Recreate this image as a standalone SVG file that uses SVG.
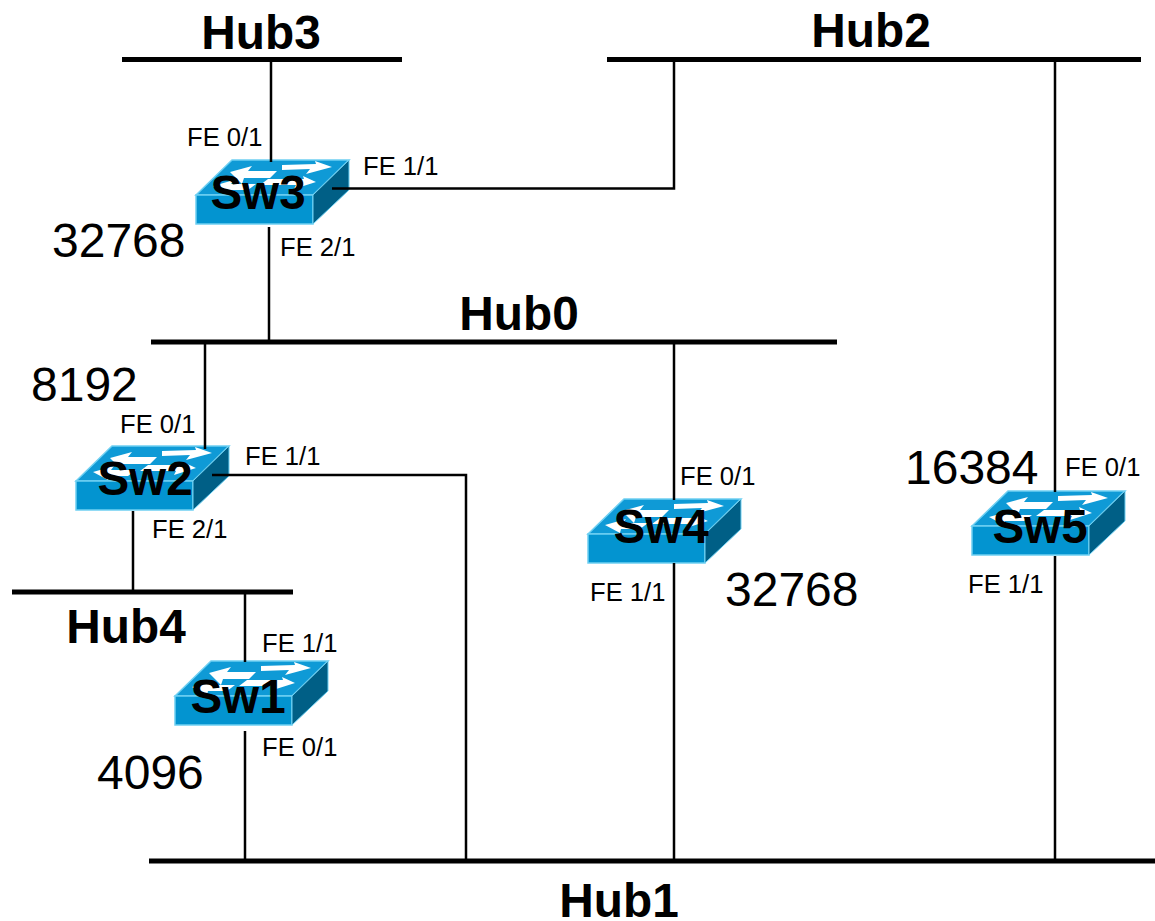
<svg xmlns="http://www.w3.org/2000/svg" width="1155" height="921" viewBox="0 0 1155 921">
<style>
.hub{stroke:#000;stroke-width:5;fill:none}
.wire{stroke:#000;stroke-width:2.5;fill:none}
text{font-family:"Liberation Sans",Arial,sans-serif;fill:#000}
.hl{font-size:47.8px;font-weight:bold;text-anchor:middle}
.sl{font-size:47.6px;font-weight:bold;text-anchor:middle}
.pl{font-size:25.6px}
.pr{font-size:48px}
</style>
<defs>
<g id="sw">
<polygon points="0,35 36,0 153,0 117,35" fill="#0f9ad6" stroke="#6fd0f2" stroke-width="1.5"/>
<rect x="0" y="35" width="117" height="29" fill="#0394d0" stroke="#6fd0f2" stroke-width="1.5"/>
<polygon points="117,35 153,0 153,30 117,64" fill="#005f86" stroke="#6fd0f2" stroke-width="1"/>
<polygon points="34,12 56,6 52,11 81,11 74,18 48,18 46,24" fill="#fff"/>
<polygon points="86,5 120,4 119,1 136,7 110,14 114,9 86,10" fill="#fff"/>
<polygon points="17,26 38,20 35,24 60,24 52,30 33,30 32,34" fill="#fff"/>
<polygon points="72,19 108,19 107,16 120,22 98,29 100,25 64,25" fill="#fff"/>
</g>
</defs>
<g id="Hub3"><line class="hub" x1="122" y1="59.5" x2="402" y2="59.5"/><text class="hl" x="261" y="49">Hub3</text></g>
<g id="Hub2"><line class="hub" x1="607" y1="59.5" x2="1141" y2="59.5"/><text class="hl" x="871" y="47">Hub2</text></g>
<g id="Hub0"><line class="hub" x1="151" y1="342" x2="837" y2="342"/><text class="hl" x="519" y="330">Hub0</text></g>
<g id="Hub4"><line class="hub" x1="12" y1="592" x2="293" y2="592"/><text class="hl" x="126" y="643">Hub4</text></g>
<g id="Hub1"><line class="hub" x1="149" y1="861" x2="1155" y2="861"/><text class="hl" x="619" y="917">Hub1</text></g>
<g id="Sw3"><use href="#sw" x="196" y="160"/><text class="sl" x="258" y="209">Sw3</text>
<text class="pl" x="187" y="146">FE 0/1</text><text class="pl" x="363" y="175">FE 1/1</text><text class="pl" x="280" y="256">FE 2/1</text><text class="pr" x="52" y="257">32768</text></g>
<g id="Sw2"><use href="#sw" x="76" y="446"/><text class="sl" x="145" y="495">Sw2</text>
<text class="pl" x="120" y="433">FE 0/1</text><text class="pl" x="245" y="465">FE 1/1</text><text class="pl" x="152" y="538">FE 2/1</text><text class="pr" x="31" y="401">8192</text></g>
<g id="Sw1"><use href="#sw" x="175" y="661"/><text class="sl" x="238" y="713">Sw1</text>
<text class="pl" x="262" y="652">FE 1/1</text><text class="pl" x="262" y="756">FE 0/1</text><text class="pr" x="97" y="789">4096</text></g>
<g id="Sw4"><use href="#sw" x="588" y="499"/><text class="sl" x="661" y="543">Sw4</text>
<text class="pl" x="680" y="485">FE 0/1</text><text class="pl" x="590" y="601">FE 1/1</text><text class="pr" x="725" y="606">32768</text></g>
<g id="Sw5"><use href="#sw" x="972" y="491"/><text class="sl" x="1040" y="543">Sw5</text>
<text class="pl" x="1065" y="476">FE 0/1</text><text class="pl" x="968" y="593">FE 1/1</text><text class="pr" x="905" y="484">16384</text></g>
<g id="connectors">
<line class="wire" x1="271" y1="60" x2="271" y2="162"/>
<polyline class="wire" points="674,60 674,188.500 332,188.500"/>
<line class="wire" x1="269" y1="227" x2="269" y2="342"/>
<line class="wire" x1="205" y1="342" x2="205" y2="449"/>
<polyline class="wire" points="212,475 466,475 466,861"/>
<line class="wire" x1="133" y1="511" x2="133" y2="592"/>
<line class="wire" x1="245" y1="592" x2="245" y2="662"/>
<line class="wire" x1="245" y1="731" x2="245" y2="861"/>
<line class="wire" x1="674" y1="342" x2="674" y2="500"/>
<line class="wire" x1="674" y1="563" x2="674" y2="861"/>
<line class="wire" x1="1055" y1="60" x2="1055" y2="492"/>
<line class="wire" x1="1055" y1="556" x2="1055" y2="861"/>
</g>
</svg>
